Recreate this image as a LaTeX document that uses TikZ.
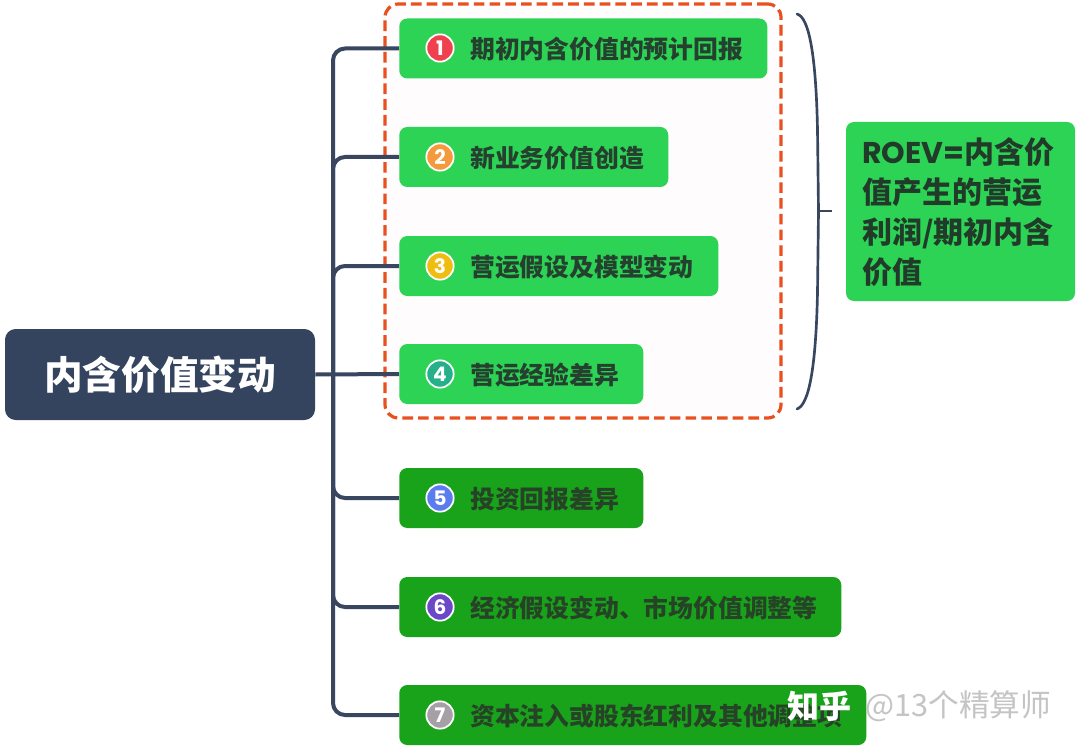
\documentclass[tikz,border=0pt]{standalone}
\usepackage{fontspec}
\setmainfont{Noto Sans CJK SC}
\newfontfamily\latinfont{Poppins}
\usetikzlibrary{positioning}

\definecolor{slate}{HTML}{34445E}
\definecolor{linkblue}{HTML}{38465F}
\definecolor{lightgreen}{HTML}{2DD354}
\definecolor{darkgreen}{HTML}{18A31A}
\definecolor{inkgreen}{HTML}{25402F}
\definecolor{inkdark}{HTML}{274327}
\definecolor{dashorange}{HTML}{E8501F}
\definecolor{framefill}{HTML}{FEFCFC}
\definecolor{markgray}{HTML}{C4C4C4}

\tikzset{
  itembox/.style={inner sep=0pt, minimum height=45pt, rounded corners=6pt, anchor=west},
  lightbox/.style={itembox, fill=lightgreen},
  darkbox/.style={itembox, fill=darkgreen},
  itemtext/.style={inner sep=0pt, anchor=west, font=\fontsize{18.6}{22}\selectfont\bfseries, text=inkgreen},
  darktext/.style={itemtext, text=inkdark},
  numdot/.style={circle, draw=white, line width=1.3pt, minimum size=20.5pt, inner sep=0pt,
    text=white, font=\fontsize{15}{15}\selectfont\latinfont\bfseries},
  link/.style={draw=linkblue, line width=3pt},
  trunk/.style={link, rounded corners=9pt}
}

\begin{document}
\begin{tikzpicture}[x=0.75pt, y=-0.75pt]
\useasboundingbox (0,0) rectangle (1080,752);
\fill [white] (0,0) rectangle (1080,752);
% dashed frame
\node (frame) [draw=dashorange, fill=framefill, line width=2.4pt, dash pattern=on 8pt off 3.8pt,
  rounded corners=10pt, minimum width=297pt, minimum height=310.5pt, inner sep=0pt] at (583,211) {};
% root
\node (root) [fill=slate, rounded corners=8pt, minimum width=232.5pt, minimum height=68.25pt, inner sep=0pt,
  text=white, font=\fontsize{29}{32}\selectfont\bfseries] at (160,374.5) {内含价值变动};
% boxes
\node (item1) [lightbox, minimum width=276pt] at (399,48.5) {};
\node (item2) [lightbox, minimum width=201.75pt] at (399,157) {};
\node (item3) [lightbox, minimum width=239.25pt] at (399,266) {};
\node (item4) [lightbox, minimum width=183pt] at (399,374) {};
\node (item5) [darkbox, minimum width=183pt] at (399,498) {};
\node (item6) [darkbox, minimum width=331.5pt] at (399,607) {};
\node (item7) [darkbox, minimum width=350.25pt] at (399,715) {};
% connectors
\coordinate (junction) at (333,374);
\coordinate (bracetop) at (797,14);
\coordinate (bracemid) at (818.5,211);
\coordinate (bracebot) at (797,409);
\coordinate (stemend) at (832,211);
\draw [link] (root.east) -- (item4.west);
\draw [trunk] (junction) |- (item1.west);
\draw [trunk] (junction) |- (item2.west);
\draw [trunk] (junction) |- (item3.west);
\draw [trunk] (junction) |- (item5.west);
\draw [trunk] (junction) |- (item6.west);
\draw [trunk] (junction) |- (item7.west);
% brace
\draw [draw=linkblue, line width=2pt, line cap=round] (bracetop) .. controls (809,17) and (816,55) .. (817.5,130)
  -- (bracemid) -- (817.5,292) .. controls (816,367) and (809,405) .. (bracebot);
\draw [draw=linkblue, line width=2pt] (bracemid) -- (stemend);
% numbers
\node (num1) [numdot, fill={rgb,255:red,240;green,64;blue,78}] at (440,48) {1};
\node (num2) [numdot, fill={rgb,255:red,244;green,154;blue,61}] at (440,157) {2};
\node (num3) [numdot, fill={rgb,255:red,239;green,188;blue,16}] at (440,266) {3};
\node (num4) [numdot, fill={rgb,255:red,38;green,176;blue,138}] at (440,374) {4};
\node (num5) [numdot, fill={rgb,255:red,91;green,124;blue,238}] at (440,498) {5};
\node (num6) [numdot, fill={rgb,255:red,106;green,72;blue,200}] at (440,607) {6};
\node (num7) [numdot, fill={rgb,255:red,165;green,160;blue,165}] at (440,715) {7};
% labels
\node (text1) [itemtext] at (470,49) {期初内含价值的预计回报};
\node (text2) [itemtext] at (470,158) {新业务价值创造};
\node (text3) [itemtext] at (470,267) {营运假设及模型变动};
\node (text4) [itemtext] at (470,375) {营运经验差异};
\node (text5) [darktext] at (470,499) {投资回报差异};
\node (text6) [darktext] at (470,608) {经济假设变动、市场价值调整等};
\node (text7) [darktext] at (470,716) {资本注入或股东红利及其他调整项};
% note
\node (note) [fill=lightgreen, rounded corners=6pt, minimum width=171.75pt, minimum height=134.25pt, inner sep=0pt] at (960.5,211.5) {};
\node (notetext) [anchor=north west, inner sep=0pt, align=left, text=inkgreen!90!black,
  font=\fontsize{22.5}{30}\selectfont\bfseries] at (862,137) {{\latinfont ROEV=}内含价\\值产生的营运\\利润/期初内含\\价值};
% watermark
\node (zhihu) [anchor=west, inner sep=0pt, text=white, font=\fontsize{24}{26}\selectfont\bfseries] at (787,706) {知乎};
\node (author) [anchor=west, inner sep=0pt, text=markgray, font=\fontsize{23}{26}\selectfont] at (865,706) {@13个精算师};
\end{tikzpicture}
\end{document}
